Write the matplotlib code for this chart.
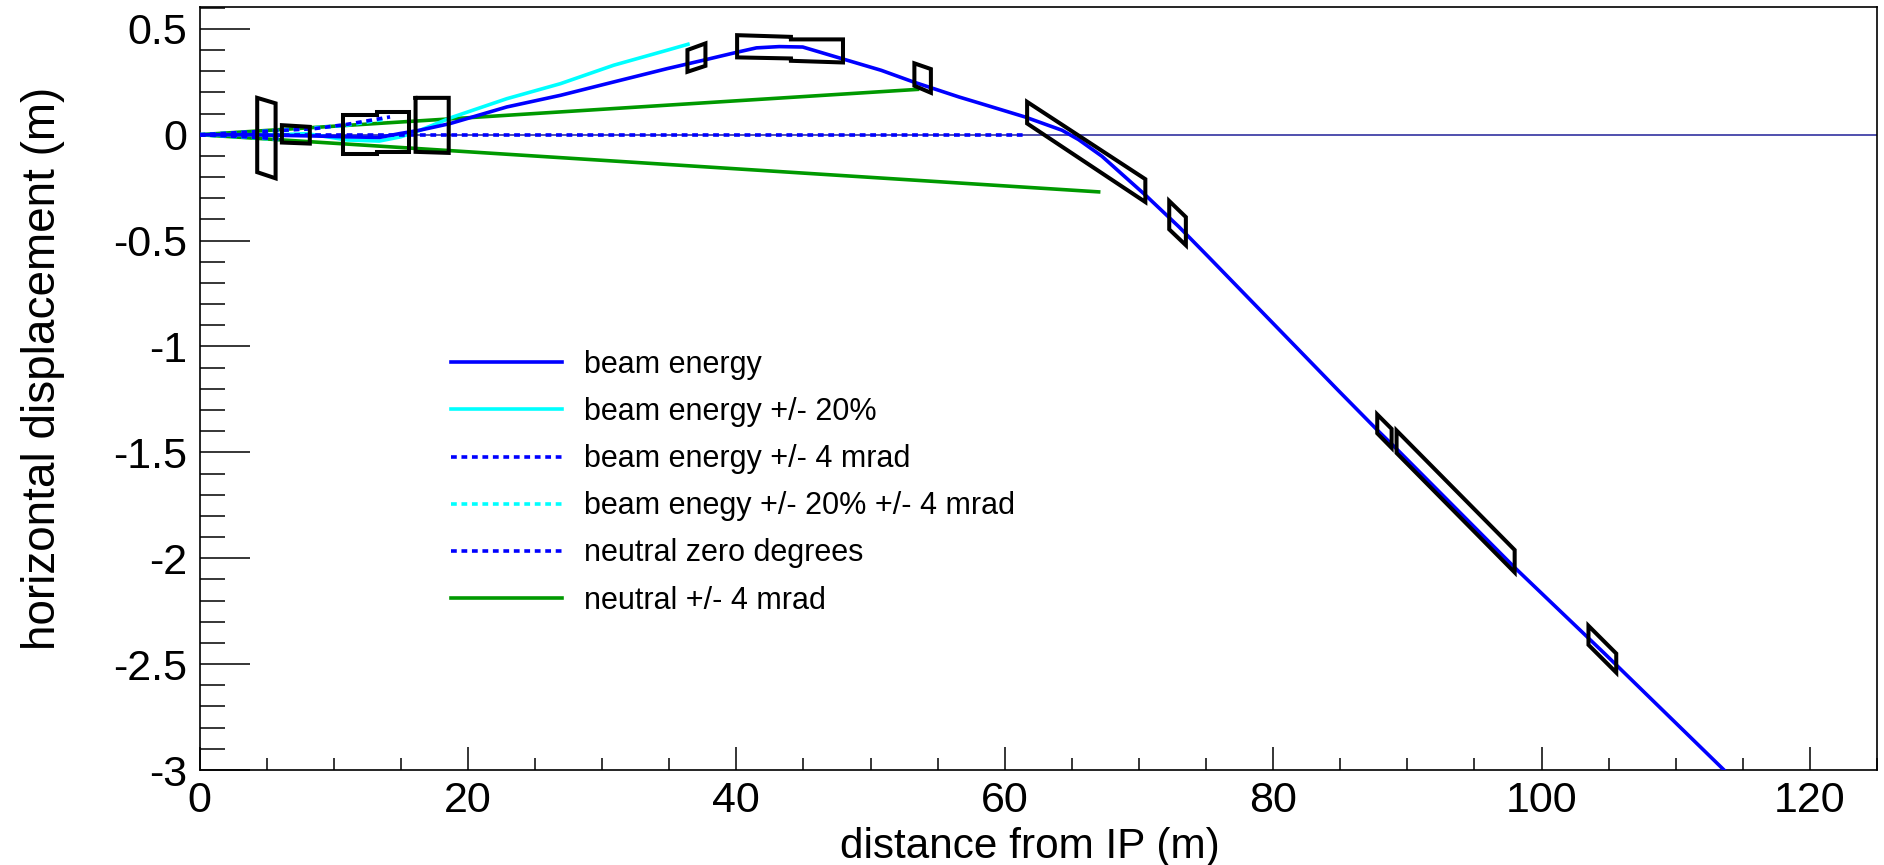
import matplotlib
matplotlib.use("Agg")
import matplotlib.pyplot as plt
from matplotlib.patches import Polygon
from matplotlib.ticker import FixedLocator

plt.rcParams['font.family'] = ['Liberation Sans', 'DejaVu Sans']
plt.rcParams['axes.unicode_minus'] = False

# Central beam-energy trajectory
beam_x = [0, 3.5, 6, 8.5, 10.95, 13.4, 14.9, 16.4, 18.64, 22.9, 26.9, 30.86, 34.85, 37.5, 40.16,
          41.5, 43.2, 44.95, 47.87, 50.8, 53.2, 56.6, 58.07, 61.5, 64.27, 65.5, 67.25, 68.75, 70.5, 73.0,
          75.2, 84.86, 87.8, 89.3, 98.0, 104.7, 113.6, 115.0]
beam_y = [0, 0, -0.003, -0.006, -0.01, -0.013, 0.005, 0.021, 0.052, 0.131, 0.186, 0.249, 0.312,
          0.351, 0.391, 0.41, 0.416, 0.414, 0.359, 0.304, 0.249, 0.178, 0.15, 0.084, 0.021, -0.023,
          -0.102, -0.187, -0.286, -0.436, -0.578, -1.208, -1.397, -1.49, -2.044, -2.45, -3.0, -3.09]

# Beam energy +/- 20 %
cyan_x = [0, 3, 6, 8, 11, 13.4, 15, 16.4, 18.9, 22.9, 26.9, 30.86, 34.85, 36.4]
cyan_y = [0, 0, 0, 0.005, -0.025, -0.03, -0.01, 0.02, 0.084, 0.17, 0.241, 0.328, 0.399, 0.427]

# Beam energy +/- 4 mrad
mrad_up_x = [0, 3.5, 8.5, 11, 14.2]
mrad_up_y = [0, 0.012, 0.028, 0.049, 0.084]
mrad_dn_x = [0, 4, 6]
mrad_dn_y = [0, -0.012, -0.02]

# Beam energy +/- 20 % +/- 4 mrad
cyan_mrad_up_x = [0, 4, 8.5, 11, 14]
cyan_mrad_up_y = [0, 0.013, 0.032, 0.045, 0.075]
cyan_mrad_dn_x = [0, 4, 6]
cyan_mrad_dn_y = [0, -0.014, -0.024]

# Neutrals
neutral0_x = [0, 61.6]
neutral0_y = [0, 0]
axis_line_x = [0, 125]
axis_line_y = [0, 0]
neutral_up_x = [0, 53.5]
neutral_up_y = [0, 0.214]
neutral_dn_x = [0, 67]
neutral_dn_y = [0, -0.27]

# Magnet apertures (x, y outline)
box1 = [(4.30, 0.174), (5.67, 0.148), (5.67, -0.206), (4.30, -0.177)]
box2 = [(6.14, 0.045), (8.22, 0.037), (8.22, -0.042), (6.14, -0.037)]
box3 = [(10.7, 0.092), (13.2, 0.092), (13.2, 0.108), (15.6, 0.108), (15.6, -0.081), (13.2, -0.081), (13.2, -0.089), (10.7, -0.089)]
box4 = [(16.1, 0.183), (16.1, 0.174), (18.57, 0.174), (18.57, -0.086), (16.1, -0.081)]
box5 = [(36.36, 0.40), (37.7, 0.431), (37.7, 0.325), (36.36, 0.297)]
box6 = [(40.06, 0.47), (44.07, 0.462), (44.07, 0.45), (47.95, 0.45), (47.95, 0.341), (44.07, 0.349), (44.07, 0.36), (40.06, 0.365)]
box7 = [(53.27, 0.337), (54.5, 0.31), (54.5, 0.198), (53.27, 0.231)]
box8 = [(61.67, 0.155), (70.48, -0.21), (70.48, -0.318), (61.67, 0.053)]
box9 = [(72.26, -0.313), (73.5, -0.389), (73.5, -0.522), (72.26, -0.447)]
box10 = [(87.76, -1.321), (88.83, -1.389), (88.83, -1.479), (87.76, -1.41)]
box11 = [(89.2, -1.397), (98.0, -1.961), (98.0, -2.067), (89.2, -1.503)]
box12 = [(103.5, -2.319), (105.57, -2.45), (105.57, -2.54), (103.5, -2.409)]
boxes = [box1, box2, box3, box4, box5, box6, box7, box8, box9, box10, box11, box12]

x_major = [0, 20, 40, 60, 80, 100, 120]
x_labels = ['0', '20', '40', '60', '80', '100', '120']
y_major = [-3, -2.5, -2, -1.5, -1, -0.5, 0, 0.5]
y_labels = ['-3', '-2.5', '-2', '-1.5', '-1', '-0.5', '0', '0.5']

legend_labels = ['beam energy', 'beam energy +/- 20%', 'beam energy +/- 4 mrad',
                 'beam enegy +/- 20% +/- 4 mrad', 'neutral zero degrees', 'neutral +/- 4 mrad']

W, H = 1884, 865
fig = plt.figure(figsize=(W / 100, H / 100), dpi=100, facecolor='white')
ax = fig.add_axes([199.5 / W, 1 - 770 / H, (1877 - 199.5) / W, (770 - 7) / H])

BLUE, CYAN, GREEN, NAVY = '#0000ff', '#00ffff', '#009900', '#202098'
LW = 2.6
DASH = (0, (1.6, 1.3))

ax.plot(axis_line_x, axis_line_y, color=NAVY, lw=1.1, zorder=1)
h_green, = ax.plot(neutral_up_x, neutral_up_y, color=GREEN, lw=LW, zorder=2)
ax.plot(neutral_dn_x, neutral_dn_y, color=GREEN, lw=LW, zorder=2)
h_cyan_d, = ax.plot(cyan_mrad_up_x, cyan_mrad_up_y, color=CYAN, lw=LW, ls=DASH, zorder=3)
ax.plot(cyan_mrad_dn_x, cyan_mrad_dn_y, color=CYAN, lw=LW, ls=DASH, zorder=3)
h_cyan, = ax.plot(cyan_x, cyan_y, color=CYAN, lw=LW, zorder=3)
h_neutral0, = ax.plot(neutral0_x, neutral0_y, color=BLUE, lw=LW, ls=DASH, zorder=4)
h_mrad, = ax.plot(mrad_up_x, mrad_up_y, color=BLUE, lw=LW, ls=DASH, zorder=4)
ax.plot(mrad_dn_x, mrad_dn_y, color=BLUE, lw=LW, ls=DASH, zorder=4)
h_beam, = ax.plot(beam_x, beam_y, color=BLUE, lw=LW, zorder=5)

for b in boxes:
    ax.add_patch(Polygon(b, closed=True, fill=False, edgecolor='black', lw=2.9, zorder=6, joinstyle='miter'))

ax.set_xlim(0, 125)
ax.set_ylim(-3, 0.603)

ax.xaxis.set_major_locator(FixedLocator(x_major))
ax.set_xticklabels(x_labels)
ax.xaxis.set_minor_locator(FixedLocator([v for v in range(0, 126, 5) if v % 20]))
ax.yaxis.set_major_locator(FixedLocator(y_major))
ax.set_yticklabels(y_labels)
ax.yaxis.set_minor_locator(FixedLocator([i / 10 for i in range(-30, 7) if i % 5]))

ax.tick_params(axis='x', which='major', direction='in', length=16.5, width=1.1, labelsize=31, pad=8)
ax.tick_params(axis='x', which='minor', direction='in', length=8.5, width=1.1)
ax.tick_params(axis='y', which='major', direction='in', length=36, width=1.1, labelsize=31, pad=9)
ax.tick_params(axis='y', which='minor', direction='in', length=18, width=1.1)
for s in ax.spines.values():
    s.set_linewidth(1.2)

ax.set_xlabel('distance from IP (m)', fontsize=30.4, va='center')
ax.xaxis.set_label_coords((1030 - 199.5) / (1877 - 199.5), -(847 - 770) / 763)
ax.set_ylabel('horizontal displacement (m)', fontsize=33, va='center')
ax.yaxis.set_label_coords(-(199.5 - 43) / (1877 - 199.5), (770 - 368) / 763)

ax.legend([h_beam, h_cyan, h_mrad, h_cyan_d, h_neutral0, h_green], legend_labels,
          loc='upper left', bbox_to_anchor=((451 - 199.5) / (1877 - 199.5), (770 - 350) / 763),
          frameon=False, fontsize=22, handlelength=3.64, handletextpad=0.72,
          labelspacing=0.56, borderpad=0, borderaxespad=0)

fig.savefig('out.png', dpi=100, facecolor='white')
